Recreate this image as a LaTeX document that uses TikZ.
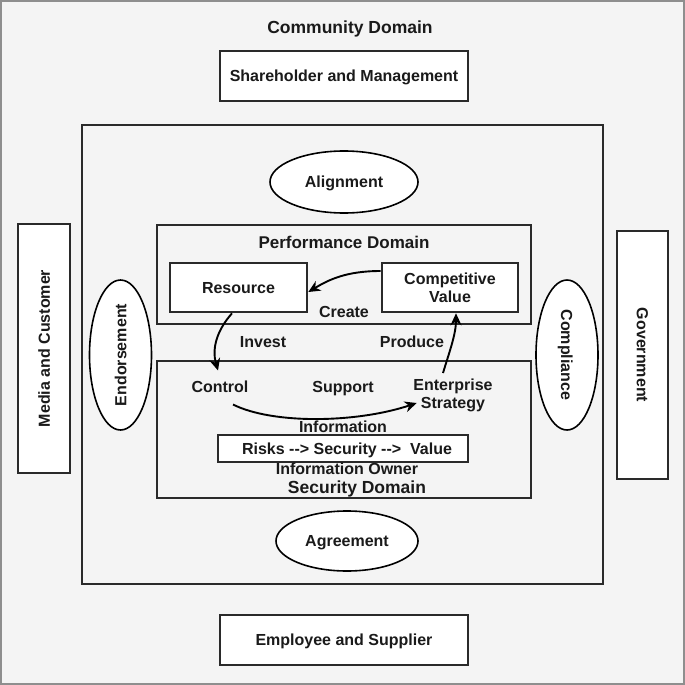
\documentclass[tikz,border=0pt]{standalone}
\usepackage{fontspec}
\setmainfont{Liberation Sans}
\usetikzlibrary{shapes.geometric,arrows.meta}
\definecolor{bgc}{HTML}{F4F4F4}
\definecolor{edgec}{HTML}{2A2A2A}
\definecolor{framec}{HTML}{8E8E8E}
\definecolor{txtc}{HTML}{1A1A1A}
\tikzset{
  lbl/.style={font=\fontsize{16}{18}\selectfont\bfseries, text=txtc, inner sep=2pt, align=center, text depth=0pt},
  wbox/.style={lbl, draw=edgec, line width=2.6pt, fill=white, rectangle, inner sep=0pt},
  dbox/.style={draw=edgec, line width=2.6pt, fill=bgc, rectangle, inner sep=0pt},
  oval/.style={lbl, draw=black, line width=1.6pt, fill=white, ellipse, inner sep=0pt},
  arr/.style={line width=1.9pt, draw=black, -{Stealth[length=12pt,width=11pt]}},
}
\begin{document}
\begin{tikzpicture}[x=1pt,y=-1pt]
\useasboundingbox (0,0) rectangle (685,685);
\fill[bgc] (0,0) rectangle (685,685);
\draw[framec, line width=2pt] (1,1) rectangle (684,684);

% outer community items
\node[lbl, font=\fontsize{17.5}{20}\selectfont\bfseries] (comm) at (350,27) {Community Domain};
\node[wbox, minimum width=248pt, minimum height=50pt] (share) at (344,76) {Shareholder and Management};
\node[wbox, minimum width=248pt, minimum height=50pt] (emp) at (344,640) {Employee and Supplier};
\node[wbox, rotate=90, minimum width=249pt, minimum height=52pt] (media) at (44,348.5) {Media and Customer};
\node[wbox, rotate=-90, minimum width=248pt, minimum height=51pt] (gov) at (642.5,355) {Government};

% main box
\node[dbox, minimum width=521pt, minimum height=459pt] (main) at (342.5,354.5) {};
\node[oval, minimum width=148pt, minimum height=62pt] (align) at (344,182) {Alignment};
\node[oval, minimum width=142pt, minimum height=60pt] (agree) at (347,541) {Agreement};
\node[oval, rotate=90, minimum width=150pt, minimum height=62pt] (endorse) at (120.5,355) {Endorsement};
\node[oval, rotate=-90, minimum width=150pt, minimum height=62pt] (compl) at (567,355) {Compliance};

% performance domain
\node[dbox, minimum width=374pt, minimum height=99pt] (perf) at (344,274.5) {};
\node[lbl, font=\fontsize{17}{19}\selectfont\bfseries] (perft) at (344,242) {Performance Domain};
\node[wbox, minimum width=137pt, minimum height=49pt] (res) at (238.5,287.5) {Resource};
\node[wbox, minimum width=136pt, minimum height=49pt] (cv) at (450,287.5) {Competitive\\Value};
\node[lbl] (create) at (344,312) {Create};

\node[lbl] (invest) at (263,342) {Invest};
\node[lbl] (produce) at (412,342) {Produce};

% security domain
\node[dbox, minimum width=374pt, minimum height=137pt] (sec) at (344,429.5) {};
\node[lbl] (ctl) at (220,387) {Control};
\node[lbl] (support) at (343,387) {Support};
\node[lbl] (es) at (453,394) {Enterprise\\Strategy};
\node[lbl] (info) at (343,427) {Information};
\node[wbox, minimum width=250pt, minimum height=27pt] (risk) at (343,448.5) {\hspace{8pt}Risks {-}{-}> Security {-}{-}>\ \ Value};
\node[lbl] (owner) at (347,469) {Information Owner};
\node[lbl, font=\fontsize{17.5}{20}\selectfont\bfseries] (sect) at (357,487) {Security Domain};

% connectors
\draw[arr] ([yshift=16.5pt]cv.west) .. controls +(-35,0) and +(20,-12) .. ([yshift=-4.5pt]res.east);
\draw[arr] ([xshift=-6.5pt]res.south) .. controls +(-16,18) and +(-6,-21) .. ([shift={(-2pt,8.5pt)}]ctl.north);
\draw[arr] ([shift={(-10pt,4pt)}]es.north) .. controls +(6,-20) and +(0,21) .. ([xshift=6pt]cv.south);
\draw[arr] ([shift={(13pt,-9.5pt)}]ctl.south) .. controls +(40,20) and +(-60,20) .. ([shift={(5.5pt,-9pt)}]es.west);
\end{tikzpicture}
\end{document}
